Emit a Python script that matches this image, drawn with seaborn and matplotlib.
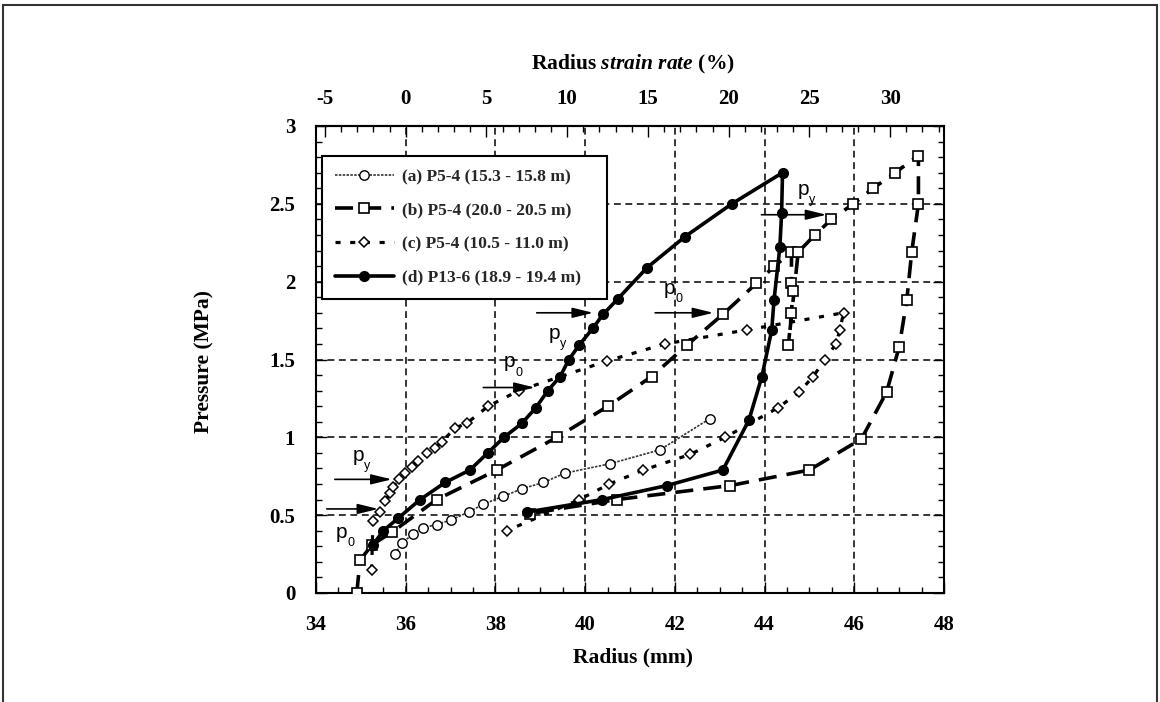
import matplotlib
matplotlib.use("Agg")
import matplotlib.pyplot as plt
import seaborn as sns
from matplotlib.ticker import MultipleLocator, FixedLocator, FixedFormatter
from matplotlib.patches import Rectangle

# ---------------- data ----------------
a_label = "(a) P5-4 (15.3 - 15.8 m)"
a_radius = [35.76, 35.91, 36.17, 36.39, 36.69, 37.02, 37.40, 37.73, 38.16, 38.60,
            39.07, 39.55, 40.55, 41.67, 42.78]
a_pressure = [0.25, 0.32, 0.38, 0.42, 0.44, 0.47, 0.52, 0.57, 0.62, 0.67,
              0.71, 0.77, 0.83, 0.92, 1.12]

b_label = "(b) P5-4 (20.0 - 20.5 m)"
b_radius = [34.91, 34.98, 35.25, 35.69, 36.69, 38.03, 39.37, 40.51, 41.48, 42.26,
            43.07, 43.82, 44.22, 44.60, 44.60, 44.63, 44.60, 44.53, 44.75, 45.12,
            45.49, 45.98, 46.42, 46.91, 47.43, 47.43, 47.28, 47.17, 47.00, 46.72,
            46.16, 45.00, 43.23, 40.70, 38.77]
b_pressure = [0.00, 0.21, 0.31, 0.39, 0.60, 0.79, 1.00, 1.20, 1.39, 1.59,
              1.79, 1.99, 2.10, 2.19, 1.99, 1.94, 1.80, 1.59, 2.19, 2.30,
              2.40, 2.50, 2.60, 2.70, 2.81, 2.50, 2.19, 1.88, 1.58, 1.29,
              0.99, 0.79, 0.69, 0.60, 0.51]

c_label = "(c) P5-4 (10.5 - 11.0 m)"
c_radius = [35.24, 35.27, 35.43, 35.54, 35.65, 35.72, 35.85, 35.98, 36.13, 36.27,
            36.47, 36.65, 36.80, 37.10, 37.36, 37.84, 38.52, 40.48, 41.78, 43.60,
            45.76, 45.68, 45.59, 45.35, 45.08, 44.77, 44.30, 43.12, 42.34, 41.30,
            40.54, 39.87, 38.25]
c_pressure = [0.15, 0.46, 0.52, 0.59, 0.64, 0.68, 0.73, 0.77, 0.81, 0.85,
              0.90, 0.93, 0.97, 1.06, 1.09, 1.20, 1.30, 1.49, 1.60, 1.69,
              1.80, 1.69, 1.60, 1.50, 1.39, 1.29, 1.19, 1.00, 0.89, 0.79,
              0.70, 0.60, 0.40]

d_label = "(d) P13-6 (18.9 - 19.4 m)"
d_radius = [35.27, 35.50, 35.83, 36.32, 36.88, 37.43, 37.83, 38.19, 38.59, 38.90,
            39.17, 39.44, 39.64, 39.86, 40.17, 40.40, 40.73, 41.38, 42.23, 43.27,
            44.40, 44.38, 44.34, 44.21, 44.16, 43.94, 43.65, 43.07, 41.82, 40.38,
            38.70]
d_pressure = [0.31, 0.40, 0.48, 0.60, 0.71, 0.79, 0.90, 1.00, 1.09, 1.19,
              1.30, 1.39, 1.50, 1.59, 1.70, 1.79, 1.89, 2.09, 2.29, 2.50,
              2.70, 2.44, 2.22, 1.88, 1.69, 1.39, 1.11, 0.79, 0.69, 0.60,
              0.52]

# annotation arrows: (start radius, end radius, pressure)
arrow_x0 = [34.42, 34.24, 37.73, 38.92, 41.56, 43.93]
arrow_x1 = [35.69, 35.39, 38.88, 40.18, 42.86, 45.38]
arrow_y = [0.73, 0.54, 1.32, 1.80, 1.80, 2.43]
# p labels: (radius, pressure, subscript)
plab_x = [34.94, 34.57, 38.32, 39.31, 41.89, 44.86]
plab_y = [0.886, 0.39, 1.486, 1.668, 1.957, 2.593]
plab_sub = ["y", "0", "0", "y", "0", "y"]

x_ticks = [34, 36, 38, 40, 42, 44, 46, 48]
x_ticklabels = ["34", "36", "38", "40", "42", "44", "46", "48"]
y_ticks = [0, 0.5, 1, 1.5, 2, 2.5, 3]
y_ticklabels = ["0", "0.5", "1", "1.5", "2", "2.5", "3"]
strain_ticks = [-5, 0, 5, 10, 15, 20, 25, 30]
strain_ticklabels = ["-5", "0", "5", "10", "15", "20", "25", "30"]
r0 = 36.0

# ---------------- style ----------------
sns.set_theme(style="white")
plt.rcParams['font.family'] = ['Liberation Serif', 'DejaVu Serif']
plt.rcParams['font.weight'] = 'bold'
plt.rcParams['mathtext.fontset'] = 'custom'
plt.rcParams['mathtext.it'] = 'Liberation Serif:italic:bold'
plt.rcParams['mathtext.rm'] = 'Liberation Serif:bold'
plt.rcParams['mathtext.bf'] = 'Liberation Serif:bold'

fig = plt.figure(figsize=(11.6, 7.02), dpi=100)
fig.patch.set_facecolor('white')
ax = fig.add_axes([316 / 1160, 1 - 593 / 702, 628 / 1160, 467 / 702])
ax.set_facecolor('white')

common = dict(sort=False, estimator=None, ax=ax, legend=False)

sns.lineplot(x=a_radius, y=a_pressure, color='#333333', lw=1.2,
             linestyle=(0, (1.5, 0.8)), marker='o', markersize=6.8,
             markerfacecolor='white', markeredgecolor='black',
             markeredgewidth=1.0, label=a_label, zorder=3, **common)
sns.lineplot(x=b_radius, y=b_pressure, color='black', lw=2.6,
             linestyle=(0, (5, 2.8)), marker='s', markersize=7,
             markerfacecolor='white', markeredgecolor='black',
             markeredgewidth=1.2, label=b_label, zorder=5, **common)
sns.lineplot(x=c_radius, y=c_pressure, color='black', lw=2.3,
             linestyle=(0, (1.6, 3.0)), marker='D', markersize=4.8,
             markerfacecolor='white', markeredgecolor='black',
             markeredgewidth=1.1, label=c_label, zorder=4, **common)
sns.lineplot(x=d_radius, y=d_pressure, color='black', lw=2.6,
             linestyle='-', marker='o', markersize=7,
             markerfacecolor='black', markeredgecolor='black',
             markeredgewidth=1.0, label=d_label, zorder=6, **common)

# ---------------- axes ----------------
ax.set_xlim(34, 48)
ax.set_ylim(0, 3)
ax.xaxis.set_major_locator(FixedLocator(x_ticks))
ax.xaxis.set_major_formatter(FixedFormatter(x_ticklabels))
ax.xaxis.set_minor_locator(MultipleLocator(0.5))
ax.yaxis.set_major_locator(FixedLocator(y_ticks))
ax.yaxis.set_major_formatter(FixedFormatter(y_ticklabels))
ax.yaxis.set_minor_locator(MultipleLocator(0.1))
ax.tick_params(which='both', direction='in', top=False, right=True,
               left=True, bottom=True, colors='black', width=1.0)
ax.tick_params(which='major', length=8, labelsize=15)
ax.tick_params(axis='x', which='major', pad=16)
ax.tick_params(axis='y', which='major', pad=15)
ax.tick_params(which='minor', length=4.5)
for lab in ax.get_xticklabels() + ax.get_yticklabels():
    lab.set_fontweight('bold')

for sp in ax.spines.values():
    sp.set_color('black')
    sp.set_linewidth(1.5)

ax.grid(True, which='major', color='black', linestyle=(0, (4.5, 3)), lw=1.1)
ax.set_axisbelow(True)

secax = ax.secondary_xaxis('top', functions=(lambda r: (r / r0 - 1) * 100,
                                              lambda s: r0 * (1 + s / 100)))
secax.xaxis.set_major_locator(FixedLocator(strain_ticks))
secax.xaxis.set_major_formatter(FixedFormatter(strain_ticklabels))
secax.xaxis.set_minor_locator(MultipleLocator(1))
secax.tick_params(which='both', direction='in', colors='black', width=1.0)
secax.tick_params(which='major', length=8, labelsize=15, pad=12)
secax.tick_params(which='minor', length=4.5)
secax.spines['top'].set_linewidth(1.5)
for lab in secax.get_xticklabels():
    lab.set_fontweight('bold')

ax.set_xlabel("Radius (mm)", fontsize=15.5, fontweight='bold', color='black')
ax.xaxis.set_label_coords(0.505, -0.139)
ax.xaxis.label.set_va('center')
ax.set_ylabel("Pressure (MPa)", fontsize=15.5, fontweight='bold', color='black')
ax.yaxis.set_label_coords(-0.177, 0.495)
ax.yaxis.label.set_va('center')
ax.yaxis.label.set_ha('center')
fig.text(633 / 1160, 1 - 64 / 702, r"Radius $\mathit{strain\ rate}$ (%)",
         fontsize=15.5, fontweight='bold', color='black', ha='center', va='center')

# ---------------- annotations ----------------
for x0, x1, y in zip(arrow_x0, arrow_x1, arrow_y):
    ax.annotate('', xy=(x1, y), xytext=(x0, y),
                arrowprops=dict(arrowstyle='-|>,head_length=0.9,head_width=0.22',
                                lw=1.2, color='black', shrinkA=0, shrinkB=0,
                                mutation_scale=14), zorder=7)
for x, y, s in zip(plab_x, plab_y, plab_sub):
    ax.text(x, y, 'p', family='Liberation Sans', fontweight='normal',
            fontsize=15, ha='center', va='center', color='black', zorder=8)
    ax.annotate(s, xy=(x, y), xytext=(6.5, -8), textcoords='offset points',
                family='Liberation Sans', fontweight='normal', fontsize=9,
                ha='center', va='center', color='black', zorder=8)

# ---------------- legend ----------------
handles, labels = ax.get_legend_handles_labels()
order = [labels.index(l) for l in [a_label, b_label, c_label, d_label]]
leg = ax.legend([handles[i] for i in order], [labels[i] for i in order],
                loc='upper left', bbox_to_anchor=(0.009, 0.3, 0.454, 0.636),
                mode='expand', frameon=True, fancybox=False, framealpha=1,
                edgecolor='black', facecolor='white',
                prop=dict(family='Liberation Serif', weight='bold', size=12.5),
                handlelength=3.4, handletextpad=0.45, labelspacing=1.0,
                borderpad=0.75, borderaxespad=0, numpoints=1)
leg.get_frame().set_linewidth(1.5)
leg.set_zorder(10)

# outer frame
fig.add_artist(Rectangle((0.003, -0.02), 0.994, 1.013, transform=fig.transFigure,
                         fill=False, lw=1.5, ec='#333333'))

fig.savefig("out.png", dpi=100, facecolor='white')
